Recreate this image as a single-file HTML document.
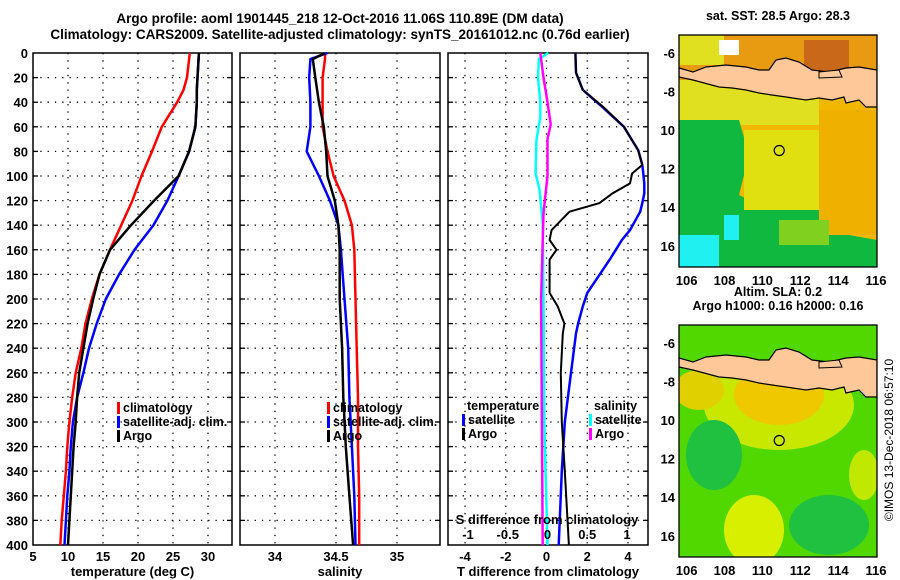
<!DOCTYPE html>
<html><head><meta charset="utf-8"><style>
html,body{margin:0;padding:0;background:#fff;}
svg{display:block;font-family:"Liberation Sans",sans-serif;font-weight:bold;}
</style></head><body>
<svg id="fig" width="900" height="580" viewBox="0 0 900 580" xmlns="http://www.w3.org/2000/svg">
<g font-size="13.5" text-anchor="middle" fill="#000">
<text x="340" y="23">Argo profile: aoml 1901445_218 12-Oct-2016 11.06S 110.89E (DM data)</text>
<text x="340" y="39">Climatology: CARS2009. Satellite-adjusted climatology: synTS_20161012.nc (0.76d earlier)</text>
</g>
<g id="panels"></g>
<g id="maps"></g>
<text transform="translate(893,440) rotate(-90)" font-size="12" font-weight="normal" text-anchor="middle">©IMOS 13-Dec-2018 06:57:10</text>
</svg>
<script>
// ---------- data ----------
const depthT = [0,10,20,30,40,60,80,100,120,140,160,180,200,220,240,260,280,300,320,340,360,380,400];
const tempClim = [27.4,27.2,27.0,26.5,25.6,23.4,22.0,20.5,19.2,17.6,16.0,14.5,13.4,12.5,11.9,11.1,10.6,10.2,9.9,9.7,9.4,9.1,8.9];
const tempSat  = [28.7,28.6,28.5,28.4,28.4,28.2,27.3,25.8,24.2,22.2,19.5,17.3,15.4,14.1,13.0,12.2,11.3,10.7,10.4,10.2,9.9,9.7,9.5];
const tempArgo = [28.7,28.6,28.5,28.4,28.4,28.2,27.3,25.8,22.3,19.0,16.0,14.5,13.6,12.8,12.2,11.6,11.3,11.1,10.8,10.6,10.4,10.2,10.0];

const depthS = [0,5,20,40,60,80,100,120,140,160,200,240,280,320,360,400];
const salClim = [34.41,34.41,34.39,34.39,34.39,34.43,34.48,34.57,34.63,34.65,34.66,34.67,34.68,34.68,34.69,34.69];
const salSat  = [34.43,34.29,34.28,34.29,34.29,34.26,34.36,34.45,34.52,34.54,34.57,34.60,34.61,34.63,34.65,34.66];
const salArgo = [34.41,34.31,34.33,34.36,34.40,34.42,34.43,34.49,34.52,34.53,34.53,34.55,34.56,34.58,34.61,34.64];

const depthDT = [0,16,30,44,60,79,91,98,106,114,122,129,144,152,160,168,195,206,220,228,260,300,340,400];
const dTSat  = [1.42,1.45,1.78,2.75,3.8,4.5,4.7,4.75,4.8,4.8,4.7,4.6,4.1,3.7,3.4,3.1,2.0,1.78,1.55,1.45,1.2,0.9,0.75,0.6];
const dTArgo = [1.42,1.45,1.78,2.8,3.8,4.5,4.7,4.2,4.1,3.25,2.6,1.13,0.25,0.15,0.49,0.15,0.15,0.55,0.88,0.8,0.7,0.75,0.9,1.1];
const depthDSs = [0,5,20,40,52,71,98,111,138,200,300,400];
const dSSat = [0.01,-0.11,-0.12,-0.09,-0.09,-0.14,-0.15,-0.10,-0.06,-0.05,-0.04,0.0];
const depthDSa = [0,20,40,58,70,100,130,200,300,400];
const dSArgo = [-0.09,-0.05,0,0.04,0,0,-0.05,-0.08,-0.07,-0.06];

const depthTicks = [0,20,40,60,80,100,120,140,160,180,200,220,240,260,280,300,320,340,360,380,400];
const tTicks = [5,10,15,20,25,30];
const sTicks = [34,34.5,35];
const dTTicks = [-4,-2,0,2,4];
const dSTicks = [-1,-0.5,0,0.5,1];
const lonTicks = [106,108,110,112,114,116];
const latTicks = [-6,-8,-10,-12,-14,-16];
const argoLon = 110.89, argoLat = -11.06;

// ---------- helpers ----------
const NS = "http://www.w3.org/2000/svg";
function mk(tag, attrs, parent){const e=document.createElementNS(NS,tag);for(const k in attrs)e.setAttribute(k,attrs[k]);parent.appendChild(e);return e;}
const Y0=53, Y1=545;
const yD = d => Y0 + d*(Y1-Y0)/400;
function lin(d0,d1,r0,r1){return v=>r0+(v-d0)*(r1-r0)/(d1-d0);}
const P = document.getElementById('panels');

function panel(name,x0,x1,xs,xticks,xlabel,showY,gridX){
  const g=mk('g',{},P);
  
  
  depthTicks.forEach(d=>{ if(d>0&&d<400){
    const l=mk('line',{x1:x0,x2:x1,y1:yD(d),y2:yD(d),stroke:'#000','stroke-width':1.3,'stroke-dasharray':'1.3 6'},g);
    
    mk('line',{x1:x0,x2:x0+5,y1:yD(d),y2:yD(d),stroke:'#000','stroke-width':1.3},g);
    mk('line',{x1:x1-5,x2:x1,y1:yD(d),y2:yD(d),stroke:'#000','stroke-width':1.3},g);
  }});
  gridX.forEach(v=>{
    const l=mk('line',{x1:xs(v),x2:xs(v),y1:Y0,y2:Y1,stroke:'#000','stroke-width':1.3,'stroke-dasharray':'1.3 6'},g);
    
  });
  const r=mk('rect',{x:x0,y:Y0,width:x1-x0,height:Y1-Y0,fill:'none',stroke:'#000','stroke-width':1.5},g);
  
  xticks.forEach(v=>{
    const t=mk('text',{x:xs(v),y:561,'font-size':13,'text-anchor':'middle'},g);t.textContent=v;
    
  });
  const xl=mk('text',{x:(x0+x1)/2,y:576,'font-size':13,'text-anchor':'middle'},g);xl.textContent=xlabel;
  
  if(showY){depthTicks.forEach(d=>{
    const t=mk('text',{x:28,y:yD(d)+5,'font-size':13,'text-anchor':'end'},g);t.textContent=d;
    
  });}
  return g;
}
function series(g,name,depths,vals,xs,color,w){
  const pts=vals.map((v,i)=>xs(v).toFixed(1)+','+yD(depths[i]).toFixed(1)).join(' ');
  const l=mk('polyline',{points:pts,fill:'none',stroke:color,'stroke-width':w||2.5,'stroke-linejoin':'round'},g);
  
  
}
function legend(g,x,y,items){
  items.forEach((it,i)=>{
    const yy=y+i*14;
    if(it[1]){const m=mk('rect',{x:x,y:yy-10,width:3,height:12,fill:it[1]},g);
      }
    const t=mk('text',{x:x+(it[1]?6:0),y:yy,'font-size':12.5},g);t.textContent=it[0];
    
  });
}

const xT=lin(5,30,33,208);
const g1=panel('temperature-panel',33,232,xT,tTicks,'temperature (deg C)',true,[10,15,20,25,30]);
series(g1,'temp-climatology-line',depthT,tempClim,xT,'#f00');
series(g1,'temp-satellite-line',depthT,tempSat,xT,'#00f');
series(g1,'temp-argo-line',depthT,tempArgo,xT,'#000');
legend(g1,117,412,[['climatology','#f00'],['satellite-adj. clim.','#00f'],['Argo','#000']]);

const xS=lin(34,35,275,397);
const g2=panel('salinity-panel',240,440,xS,sTicks,'salinity',false,sTicks);
series(g2,'sal-climatology-line',depthS,salClim,xS,'#f00');
series(g2,'sal-satellite-line',depthS,salSat,xS,'#00f');
series(g2,'sal-argo-line',depthS,salArgo,xS,'#000');
legend(g2,327,412,[['climatology','#f00'],['satellite-adj. clim.','#00f'],['Argo','#000']]);

const xDT=lin(-4,4,465,628);
const xDS=lin(-1,1,468,627);
const g3=panel('difference-panel',448,648,xDT,dTTicks,'T difference from climatology',false,dTTicks);
series(g3,'dS-satellite-line',depthDSs,dSSat,xDS,'#0ff');
series(g3,'dS-argo-line',depthDSa,dSArgo,xDS,'#f0f');
series(g3,'dT-satellite-line',depthDT,dTSat,xDT,'#00f');
series(g3,'dT-argo-line',depthDT,dTArgo,xDT,'#000',2);
dSTicks.forEach(v=>{const t=mk('text',{x:xDS(v),y:539,'font-size':13,'text-anchor':'middle'},g3);t.textContent=v;
  });
const st=mk('text',{x:547,y:524,'font-size':13,'text-anchor':'middle'},g3);st.textContent='S difference from climatology';

legend(g3,467,410,[['temperature',null]]);
legend(g3,462,424,[['satellite','#00f'],['Argo','#000']]);
legend(g3,594,410,[['salinity',null]]);
legend(g3,589,424,[['satellite','#0ff'],['Argo','#f0f']]);

// ---------- maps ----------
const M=document.getElementById('maps');
const javaNorth=[[0,33],[14,37],[27,32],[47,30],[67,32],[80,35],[90,35],[97,25],[107,23],[120,27],[133,35],[150,37],[167,33],[180,32],[198,35]];
const javaSouth=[[198,72],[187,72],[180,65],[167,68],[165,62],[153,65],[140,63],[127,65],[107,62],[93,60],[80,58],[67,55],[53,53],[40,52],[14,45],[0,42]];
function map(name,ox,oy,layers,title){
  const g=mk('g',{transform:`translate(${ox},${oy})`},M);
  
  const cp=mk('clipPath',{id:name+'-clip'},g);mk('rect',{x:0,y:0,width:198,height:232},cp);
  const inner=mk('g',{'clip-path':`url(#${name}-clip)`},g);
  layers.forEach(L=>{mk(L[0],L[1],inner);});
  const pts=javaNorth.concat(javaSouth).map(p=>p.join(',')).join(' ');
  const land=mk('polygon',{points:pts,fill:'#ffc898',stroke:'#000','stroke-width':1.2},inner);
  
  mk('polygon',{points:'140,37 160,35 163,42 140,43',fill:'#ffc898',stroke:'#000','stroke-width':1},inner);
  const lx=lin(105.6,116.05,0,198), ly=lin(-5.07,-17.1,0,232);
  const c=mk('circle',{cx:lx(argoLon),cy:ly(argoLat),r:5,fill:'none',stroke:'#000','stroke-width':1.2},inner);
  
  const fr=mk('rect',{x:0,y:0,width:198,height:232,fill:'none',stroke:'#000','stroke-width':1.3},g);
  
  lonTicks.forEach(v=>{const t=mk('text',{x:lx(v),y:250,'font-size':13,'text-anchor':'middle'},g);t.textContent=v;
    });
  latTicks.forEach(v=>{const t=mk('text',{x:-4,y:ly(v)+5,'font-size':13,'text-anchor':'end'},g);t.textContent=v<=-10?String(-v):v;
    });
  title.forEach((s,i)=>{const t=mk('text',{x:99,y:-15+i*14-(title.length-1)*14,'font-size':12.5,'text-anchor':'middle'},g);t.textContent=s;
    });
}
map('sst-map',679,35,[
  ['rect',{x:0,y:0,width:198,height:232,fill:'#f2b800'}],
  ['rect',{x:0,y:0,width:198,height:45,fill:'#e89a10'}],
  ['rect',{x:125,y:5,width:45,height:35,fill:'#c86818'}],
  ['rect',{x:0,y:0,width:45,height:30,fill:'#e0e020'}],
  ['rect',{x:40,y:5,width:20,height:15,fill:'#fff'}],
  ['rect',{x:0,y:45,width:140,height:45,fill:'#e0e020'}],
  ['polygon',{points:'0,85 60,85 70,120 60,160 90,175 140,175 170,200 198,205 198,232 0,232',fill:'#10b840'}],
  ['rect',{x:65,y:95,width:80,height:80,fill:'#e0e010'}],
  ['rect',{x:140,y:75,width:58,height:125,fill:'#f0b000'}],
  ['rect',{x:100,y:185,width:50,height:25,fill:'#80d020'}],
  ['rect',{x:0,y:200,width:40,height:32,fill:'#20f0f0'}],
  ['rect',{x:45,y:180,width:15,height:25,fill:'#20f0f0'}]
],['sat. SST: 28.5 Argo: 28.3']);
map('sla-map',679,325,[
  ['rect',{x:0,y:0,width:198,height:232,fill:'#50d800'}],
  ['ellipse',{cx:100,cy:80,rx:75,ry:45,fill:'#c8e800'}],
  ['ellipse',{cx:100,cy:70,rx:45,ry:30,fill:'#f0c800'}],
  ['ellipse',{cx:20,cy:65,rx:25,ry:20,fill:'#e0d000'}],
  ['ellipse',{cx:35,cy:130,rx:28,ry:35,fill:'#20c040'}],
  ['ellipse',{cx:75,cy:205,rx:30,ry:35,fill:'#d8f000'}],
  ['ellipse',{cx:150,cy:200,rx:40,ry:30,fill:'#20c040'}],
  ['ellipse',{cx:185,cy:150,rx:15,ry:25,fill:'#c0e800'}]
],['Altim. SLA: 0.2','Argo h1000: 0.16 h2000: 0.16']);
</script>
</body></html>
